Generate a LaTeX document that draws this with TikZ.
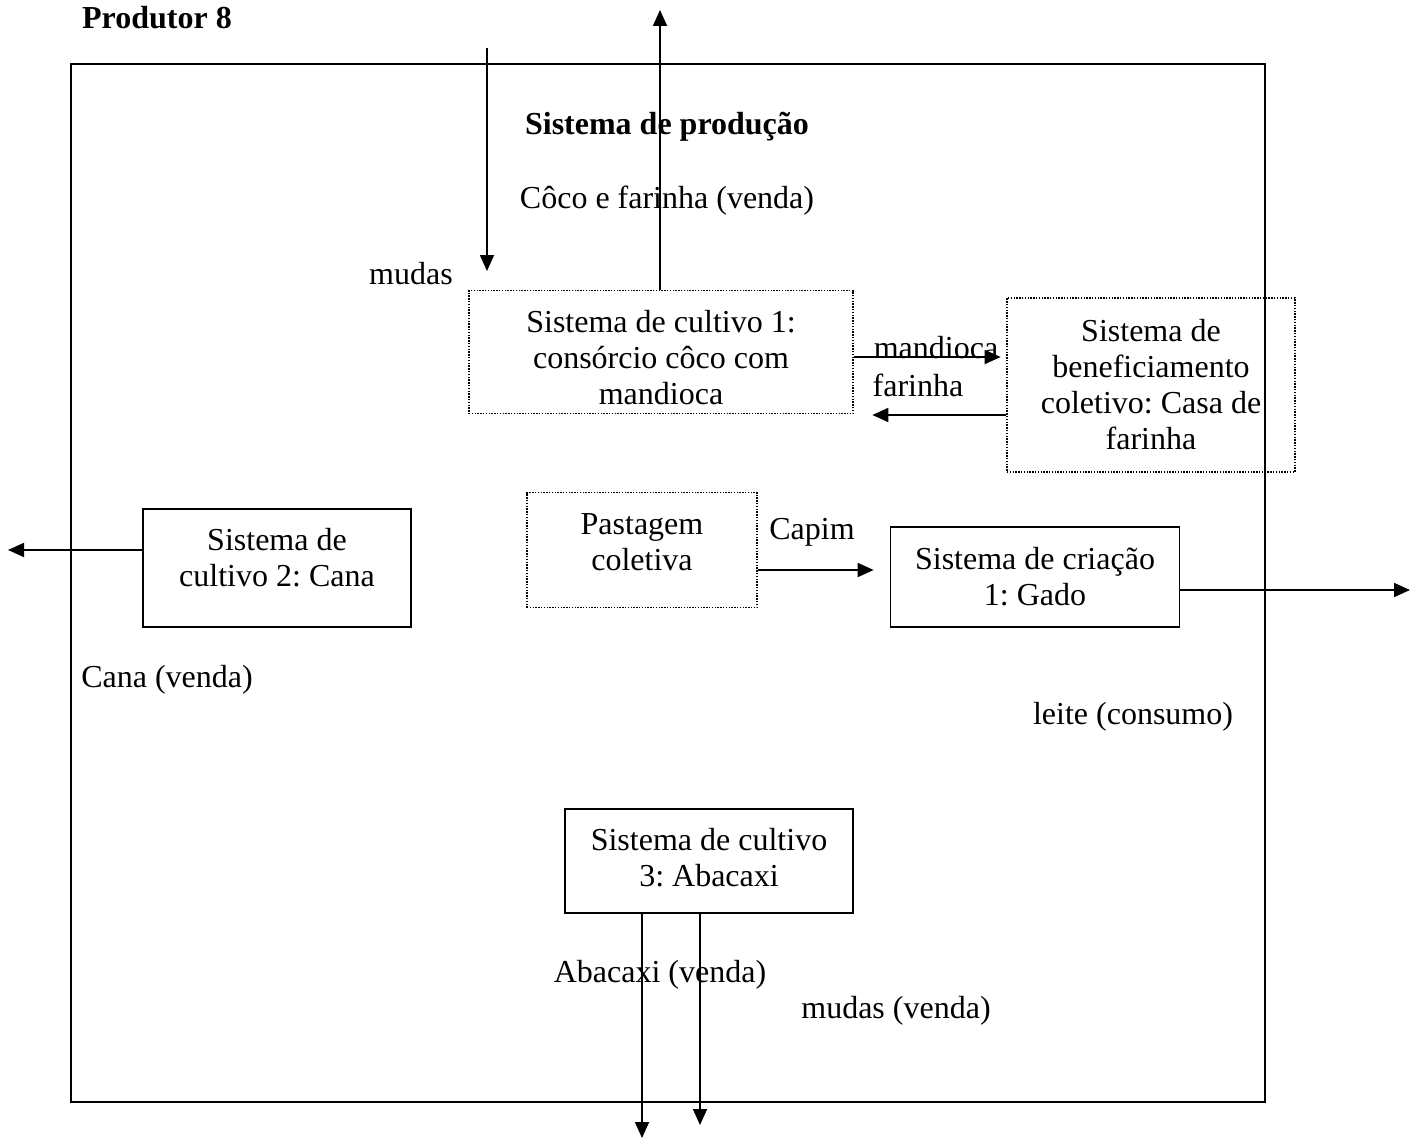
\documentclass[tikz,border=0pt]{standalone}
\usepackage{fontspec}
\setmainfont{Liberation Serif}
\usetikzlibrary{arrows.meta,positioning}
\frenchspacing

\tikzset{
  txt/.style={font=\fontsize{32}{36}\selectfont, inner sep=0pt, align=center},
  sysbox/.style={txt, draw, line width=1.6pt},
  dotbox/.style={txt, draw, line width=1.3pt, dash pattern=on 1.4pt off 1.4pt},
  flow/.style={line width=1.8pt, -{Triangle[length=16pt,width=14pt]}}
}

\begin{document}
\begin{tikzpicture}[x=1pt,y=-1pt]
\useasboundingbox (0,0) rectangle (1410,1140);
% frame of the production system
\draw[line width=2pt] (71,64) rectangle (1265,1102);
\node[txt, font=\fontsize{32}{36}\selectfont\bfseries] (prod) at (157,18) {Produtor 8};
\node[txt, font=\fontsize{32}{36}\selectfont\bfseries] (sistema) at (667,127) {Sistema de produção};

% boxes
\node[dotbox, minimum width=384pt, minimum height=123pt,
  label={[txt,yshift=-6pt]center:Sistema de cultivo 1:\\consórcio côco com\\mandioca}] (cult1) at (661,352) {};
\node[dotbox, minimum width=288pt, minimum height=174pt] (benef) at (1151,385) {Sistema de\\beneficiamento\\coletivo: Casa de\\farinha};
\node[sysbox, minimum width=268pt, minimum height=118pt,
  label={[txt,yshift=10pt]center:Sistema de\\cultivo 2: Cana}] (cult2) at (277,568) {};
\node[dotbox, minimum width=230pt, minimum height=115pt,
  label={[txt,yshift=8pt]center:Pastagem\\coletiva}] (past) at (642,550) {};
\node[sysbox, minimum width=289pt, minimum height=100pt] (gado) at (1035,577) {Sistema de criação\\1: Gado};
\node[sysbox, minimum width=288pt, minimum height=104pt,
  label={[txt,yshift=3pt]center:Sistema de cultivo\\3: Abacaxi}] (abac) at (709,861) {};

% free ends
\coordinate (mIn) at (487,48);
\coordinate (mTip) at (487,271);
\coordinate (vTop) at (660,10);
\coordinate (cLeft) at (8,550);
\coordinate (gRight) at (1410,590);
\coordinate (aDown) at (642,1138);
\coordinate (mDown) at (700,1125);

% labels
\node[txt] (venda) at (667,201) {Côco e farinha (venda)};
\node[txt] (mudas) at (411,274) {mudas};
\node[txt] (lmand) at (936,348) {mandioca};
\node[txt] (lfar) at (918,385) {farinha};
\node[txt] (lcana) at (167,680) {Cana (venda)};
\node[txt] (lcapim) at (812,532) {Capim};
\node[txt] (lleite) at (1133,717) {leite (consumo)};
\node[txt] (labac) at (660,975) {Abacaxi (venda)};
\node[txt] (lmudas) at (896,1011) {mudas (venda)};

% flows
\draw[flow] (mIn) -- (mTip);
\draw[flow] (cult1.north -| vTop) -- (vTop);
\draw[flow] ([yshift=-5pt]cult1.east) -- ++(147,0);
\draw[flow] ([yshift=-30pt]benef.west) -- ++(-134,0);
\draw[flow] (cult2.west |- cLeft) -- (cLeft);
\draw[flow] ([yshift=-20pt]past.east) -- ++(116,0);
\draw[flow] (gado.east |- gRight) -- (gRight);
\draw[flow] (abac.south -| aDown) -- (aDown);
\draw[flow] (abac.south -| mDown) -- (mDown);
\end{tikzpicture}
\end{document}
